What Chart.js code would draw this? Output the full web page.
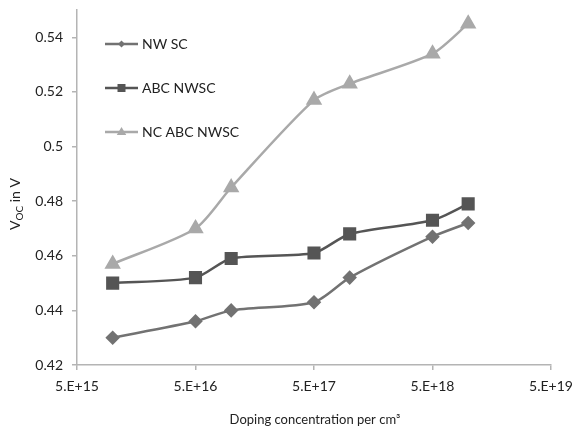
<!DOCTYPE html>
<html>
<head>
<meta charset="utf-8">
<script src="https://cdn.jsdelivr.net/npm/chart.js@4/dist/chart.umd.min.js"></script>
<style>
  html, body { margin: 0; padding: 0; background: #fff; }
  #wrap { width: 576px; height: 430px; }
</style>
</head>
<body>
<div id="wrap"><canvas id="vocChart" width="576" height="430"></canvas></div>
<script>
// doping concentration (per cm3) for each measured point
const doping = [1e16, 5e16, 1e17, 5e17, 1e18, 5e18, 1e19];

// open circuit voltage in V
const nwSC = [0.430, 0.436, 0.440, 0.443, 0.452, 0.467, 0.472];
const abcNWSC = [0.450, 0.452, 0.459, 0.461, 0.468, 0.473, 0.479];
const ncAbcNWSC = [0.457, 0.470, 0.485, 0.517, 0.523, 0.534, 0.545];

const seriesNames = ['NW SC', 'ABC NWSC', 'NC ABC NWSC'];

const xTicks = [5e15, 5e16, 5e17, 5e18, 5e19];
const yTicks = [0.42, 0.44, 0.46, 0.48, 0.50, 0.52, 0.54];

const FONT = 'Lato, "Open Sans", sans-serif';
const TEXT = '#222222';
const AXIS = '#b4b4b4';

let toPoints = (ys) => ys.map((y, i) => ({x: doping[i], y: y}));

let fmtExp = (v) => {
    let s = Number(v).toExponential(0);   // "5e+15"
    return s.replace('e', '.E');
};

// little marker drawer, used for the legend inside the plot
let drawMarker = (ctx, style, x, y, r, color) => {
    ctx.save();
    ctx.fillStyle = color;
    ctx.beginPath();
    if (style === 'rectRot') {
        ctx.moveTo(x, y - r); ctx.lineTo(x + r, y); ctx.lineTo(x, y + r); ctx.lineTo(x - r, y);
    } else if (style === 'rect') {
        ctx.rect(x - r, y - r, 2 * r, 2 * r);
    } else {
        ctx.moveTo(x, y - r); ctx.lineTo(x + r * 0.95, y + r * 0.6); ctx.lineTo(x - r * 0.95, y + r * 0.6);
    }
    ctx.closePath();
    ctx.fill();
    ctx.restore();
};

const legendRows = [44, 88, 132];

const decorations = {
    id: 'decorations',
    afterDraw(chart) {
        const ctx = chart.ctx;
        ctx.save();

        // legend in the upper left of the plot
        chart.data.datasets.forEach((ds, i) => {
            let y = legendRows[i];
            ctx.strokeStyle = ds.borderColor;
            ctx.lineWidth = ds.borderWidth;
            ctx.beginPath();
            ctx.moveTo(105, y);
            ctx.lineTo(138, y);
            ctx.stroke();
            let r = ds.pointStyle === 'rectRot' ? 3.5 : (ds.pointStyle === 'rect' ? 4 : 5);
            drawMarker(ctx, ds.pointStyle, 121.5, y, r, ds.backgroundColor);
            ctx.fillStyle = TEXT;
            ctx.font = '14px ' + FONT;
            ctx.textAlign = 'left';
            ctx.textBaseline = 'middle';
            ctx.fillText(ds.label, 142, y);
        });

        // x axis title
        ctx.fillStyle = TEXT;
        ctx.font = '13px ' + FONT;
        ctx.textAlign = 'center';
        ctx.textBaseline = 'middle';
        ctx.fillText('Doping concentration per cm\u00B3', 315, 420);

        // y axis title with subscript
        ctx.translate(15, 204);
        ctx.rotate(-Math.PI / 2);
        ctx.textBaseline = 'alphabetic';
        ctx.textAlign = 'left';
        let big = '14px ' + FONT, small = '10px ' + FONT;
        ctx.font = big;
        let wV = ctx.measureText('V').width;
        let wRest = ctx.measureText(' in V').width;
        ctx.font = small;
        let wSub = ctx.measureText('OC').width;
        let x0 = -(wV + wSub + wRest) / 2;
        ctx.font = big;
        ctx.fillText('V', x0, 5);
        ctx.font = small;
        ctx.fillText('OC', x0 + wV, 8);
        ctx.font = big;
        ctx.fillText(' in V', x0 + wV + wSub, 5);
        ctx.restore();
    }
};

let vocChart = new Chart(document.getElementById('vocChart'), {
    type: 'line',
    data: {
        datasets: [
            {
                label: seriesNames[0],
                data: toPoints(nwSC),
                borderColor: '#727272',
                backgroundColor: '#727272',
                borderWidth: 2.5,
                pointStyle: 'rectRot',
                pointRadius: 5.5,
                pointHoverRadius: 5.5,
                tension: 0.25
            },
            {
                label: seriesNames[1],
                data: toPoints(abcNWSC),
                borderColor: '#555555',
                backgroundColor: '#555555',
                borderWidth: 2.5,
                pointStyle: 'rect',
                pointRadius: 7.5,
                pointHoverRadius: 7.5,
                tension: 0.25
            },
            {
                label: seriesNames[2],
                data: toPoints(ncAbcNWSC),
                borderColor: '#a9a9a9',
                backgroundColor: '#a9a9a9',
                borderWidth: 2.5,
                pointStyle: 'triangle',
                pointRadius: 7,
                pointHoverRadius: 7,
                tension: 0.25
            }
        ]
    },
    options: {
        responsive: false,
        animation: false,
        layout: {padding: {left: 0, right: 25, top: 6, bottom: 0}},
        plugins: {
            legend: {display: false},
            tooltip: {enabled: false}
        },
        scales: {
            x: {
                type: 'logarithmic',
                min: 5e15,
                max: 5e19,
                afterBuildTicks: (scale) => { scale.ticks = xTicks.map(v => ({value: v})); },
                afterFit: (scale) => {
                    scale.height = 65;
                    scale.paddingLeft = 0;
                    scale.paddingRight = 0;
                },
                grid: {display: true, drawOnChartArea: false, drawTicks: true, tickLength: 5, color: AXIS, lineWidth: 1.5},
                border: {display: true, color: AXIS, width: 1.5},
                ticks: {
                    autoSkip: false,
                    maxRotation: 0,
                    padding: 8,
                    color: TEXT,
                    font: {family: FONT, size: 14},
                    callback: (v) => fmtExp(v)
                }
            },
            y: {
                min: 0.42,
                max: 0.55,
                afterBuildTicks: (scale) => { scale.ticks = yTicks.map(v => ({value: v})); },
                afterFit: (scale) => {
                    scale.width = 77;
                    scale.paddingTop = 0;
                    scale.paddingBottom = 0;
                },
                grid: {display: true, drawOnChartArea: false, drawTicks: true, tickLength: 5, color: AXIS, lineWidth: 1.5},
                border: {display: true, color: AXIS, width: 1.5},
                ticks: {
                    autoSkip: false,
                    padding: 9,
                    color: TEXT,
                    font: {family: FONT, size: 14},
                    callback: (v) => String(+Number(v).toFixed(2))
                }
            }
        }
    },
    plugins: [decorations]
});
</script>
</body>
</html>
